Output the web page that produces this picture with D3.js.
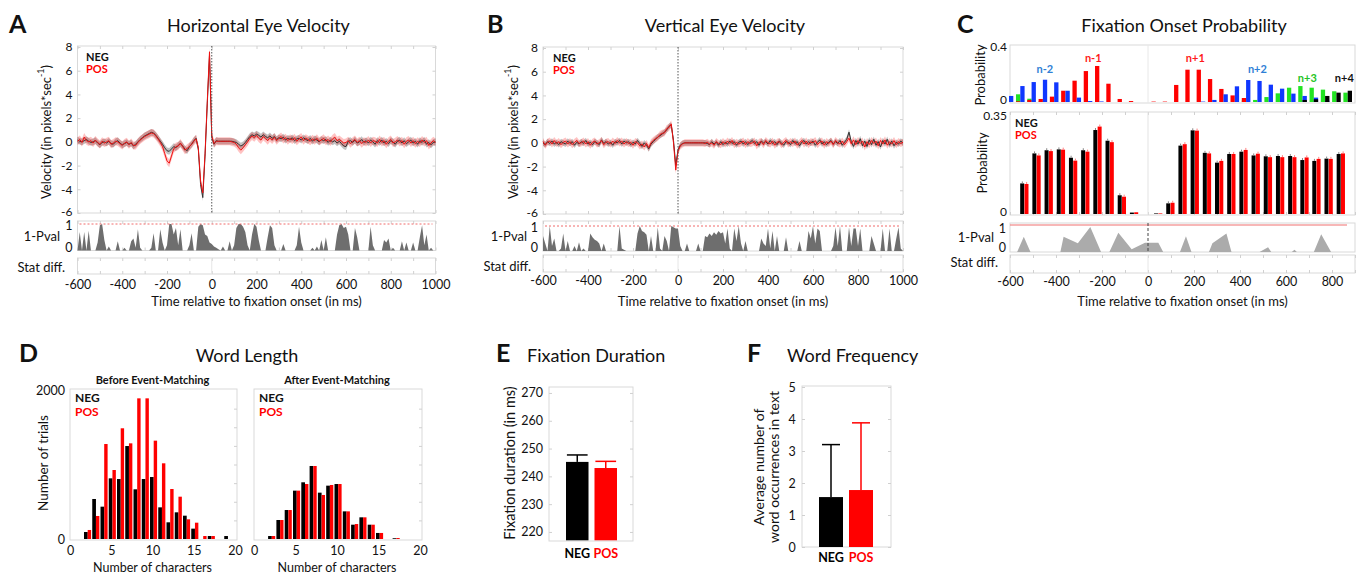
<!DOCTYPE html>
<html>
<head>
<meta charset="utf-8">
<script src="https://cdn.jsdelivr.net/npm/d3@7"></script>
<style>
  body { margin: 0; background: #fff; }
  svg { font-family: Lato, "Open Sans", sans-serif; }
</style>
</head>
<body>
<svg id="fig" width="1363" height="574"></svg>
<script>
// ---------- data ----------
const sampleTimes = [
  -600,-590,-580,-570,-560,-550,-540,-530,-520,-510,
  -500,-490,-480,-470,-460,-450,-440,-430,-420,-410,
  -400,-390,-380,-370,-360,-350,-340,-330,-320,-310,
  -300,-290,-280,-270,-260,-250,-240,-230,-220,-210,
  -200,-190,-180,-170,-160,-150,-140,-130,-120,-110,
  -100,-90,-80,-70,-60,-50,-40,-30,-20,-10,
  0,10,20,30,40,50,60,70,80,90,
  100,110,120,130,140,150,160,170,180,190,
  200,210,220,230,240,250,260,270,280,290,
  300,310,320,330,340,350,360,370,380,390,
  400,410,420,430,440,450,460,470,480,490,
  500,510,520,530,540,550,560,570,580,590,
  600,610,620,630,640,650,660,670,680,690,
  700,710,720,730,740,750,760,770,780,790,
  800,810,820,830,840,850,860,870,880,890,
  900,910,920,930,940,950,960,970,980,990,
  1000]

// horizontal eye velocity (pixels/sec)
const horizNeg = [
  0.15,0.05,0.0,0.1,0.2,0.05,-0.05,0.0,0.1,-0.1,
  -0.25,-0.05,0.0,-0.1,0.05,-0.15,-0.2,0.0,0.1,-0.1,
  -0.25,-0.15,-0.05,-0.2,-0.1,-0.35,-0.2,0.0,0.2,0.35,
  0.5,0.6,0.7,0.8,0.75,0.55,0.3,0.05,-0.2,-0.5,
  -0.75,-0.8,-0.6,-0.4,-0.5,-0.3,-0.15,-0.35,-0.6,-0.75,
  -0.4,-0.2,0.1,0.3,-0.6,-3.6,-4.7,-1.2,3.2,7.3,
  0.4,-0.2,0.1,0.05,0.05,0.05,0.05,0.05,0.05,0.05,
  0.0,-0.05,-0.2,-0.35,-0.25,-0.05,0.2,0.45,0.6,0.5,
  0.65,0.55,0.4,0.6,0.45,0.35,0.5,0.3,0.45,0.2,
  0.35,0.25,0.4,0.15,0.3,0.2,0.35,0.1,0.25,0.3,
  0.15,0.35,0.2,0.1,0.3,0.05,0.25,0.15,0.0,0.2,
  0.1,0.2,-0.05,0.15,0.0,0.1,-0.1,0.05,-0.15,-0.35,
  -0.4,0.05,0.1,-0.05,0.15,-0.1,0.0,0.2,-0.05,0.1,
  -0.1,0.15,0.0,-0.2,0.1,-0.05,0.15,-0.1,0.05,-0.15,
  0.1,0.0,-0.2,0.05,0.15,-0.1,0.1,-0.15,0.0,0.15,
  -0.1,0.05,-0.2,0.1,-0.05,0.15,-0.2,-0.05,-0.25,-0.05,
  0.0]
const horizPos = [
  0.05,0.2,-0.05,0.4,0.1,0.0,0.1,-0.1,0.15,-0.05,
  -0.2,0.05,-0.1,0.0,0.1,-0.2,-0.1,0.05,0.0,-0.15,
  -0.3,-0.1,0.0,-0.25,-0.05,-0.3,-0.3,-0.05,0.15,0.3,
  0.45,0.55,0.65,0.75,0.7,0.5,0.25,-0.05,-0.4,-1.0,
  -1.6,-1.8,-1.2,-0.6,-0.4,-0.35,-0.1,-0.4,-0.7,-0.55,
  -0.4,-0.2,0.05,0.25,-0.5,-3.3,-4.3,-1.0,3.4,7.6,
  0.5,-0.15,0.05,0.05,0.05,0.05,0.05,0.05,0.05,0.0,
  -0.05,-0.2,-0.5,-0.7,-0.5,-0.25,0.0,0.3,0.5,0.35,
  0.55,0.3,0.15,0.45,0.3,0.1,0.35,0.15,0.4,0.1,
  0.3,0.45,0.2,0.35,0.1,0.3,0.15,0.35,0.05,0.25,
  0.4,0.1,0.3,0.2,0.05,0.25,0.1,0.3,0.05,0.15,
  0.3,0.05,0.2,0.0,0.25,0.4,0.1,0.2,0.05,-0.1,
  -0.05,0.1,-0.15,0.05,0.2,-0.05,0.1,-0.15,0.05,-0.05,
  0.15,-0.1,0.1,0.05,-0.1,0.2,-0.05,0.1,-0.2,0.05,
  0.2,-0.1,0.0,0.15,-0.05,0.1,-0.2,0.05,0.15,-0.1,
  0.1,-0.15,0.05,-0.1,0.15,-0.05,0.1,-0.3,-0.1,0.1,
  -0.05]
const horizPval = [
  0,0.7,0,0.7,0,0.75,0,0,0,0.3,
  0.95,1.0,0.4,0,0.15,0,0,0,0.35,0,
  0,0.1,0,0,0.35,0.45,0.1,0.8,0.1,0,
  0,0,0,0.1,0.65,0,0,0.8,0.3,0,
  0.2,1.0,1.0,0.6,0.85,0.2,0.8,0,0,0,
  0.2,0.65,0,0,0.9,1.0,0.95,0.6,0.55,0.3,
  0.25,0.15,0.1,0.05,0,0.15,0,0,0.35,0,
  0.2,0.85,1.0,1.0,0.9,0.7,0.2,0,0.6,1.0,
  0.9,0.4,0,0,0,0.5,0.95,0.85,0.2,0,
  0,0,0.25,0,0,0,0,0,0.2,0.9,
  0.3,0,0,0,0,0.1,0,0.15,0,0.4,
  0,0.5,0,0,0,0,0.6,0.95,1.0,0.85,
  0.9,0.6,0,0,0.85,0.5,0,0,0,0,
  0,0.9,0.2,0,0,0,0,0.4,0.3,0.45,
  0,0.1,0,0,0,0.35,0,0.3,0,0,
  0.3,0,0,0.5,0.95,0.2,0.6,0,0.1,0,
  0]

// vertical eye velocity (pixels/sec)
const vertNeg = [
  0.0,-0.15,0.1,-0.05,0.15,-0.1,0.05,-0.15,0.1,0.0,
  -0.1,0.15,-0.05,0.1,-0.2,0.05,-0.1,0.1,-0.05,0.2,
  -0.1,0.05,-0.15,0.1,0.0,-0.15,0.25,-0.05,0.1,-0.1,
  0.05,-0.2,0.1,0.0,0.2,-0.1,0.15,0.0,0.1,-0.15,
  0.05,-0.1,0.2,-0.05,-0.3,0.0,-0.2,-0.5,-0.1,0.1,
  0.3,0.5,0.6,0.75,0.9,1.1,1.4,1.5,0.2,-1.9,
  -0.6,-0.2,-0.05,0.0,0.0,0.0,0.0,0.0,0.0,0.0,
  0.0,0.0,0.0,-0.05,-0.15,0.1,-0.1,0.05,-0.2,0.1,
  -0.15,0.05,-0.1,0.15,-0.05,0.1,-0.2,0.05,0.15,-0.1,
  0.1,-0.15,0.05,0.2,-0.05,0.1,-0.2,0.15,0.0,0.1,
  -0.1,0.2,-0.05,0.1,-0.15,0.15,0.0,-0.2,0.1,0.05,
  -0.15,0.2,-0.05,0.1,-0.25,0.05,0.2,-0.1,0.1,-0.05,
  0.15,-0.2,0.05,0.25,-0.1,0.1,-0.15,0.05,0.2,-0.1,
  0.1,-0.05,0.2,-0.2,0.05,0.3,0.9,0.1,-0.3,0.2,
  -0.1,0.35,-0.25,0.15,-0.3,0.25,-0.15,0.3,-0.2,0.1,
  -0.35,0.2,-0.1,0.3,-0.2,0.15,-0.25,0.05,-0.1,0.15,
  0.0]
const vertPos = [
  0.1,-0.2,0.05,0.15,-0.1,0.2,-0.05,0.1,-0.15,0.05,
  0.15,-0.1,0.1,-0.15,0.05,0.2,-0.05,0.0,0.15,-0.1,
  0.1,-0.2,0.05,0.15,-0.1,0.0,0.2,-0.15,0.05,0.1,
  -0.1,0.15,-0.05,0.2,0.0,0.15,-0.1,0.1,-0.05,0.05,
  -0.2,0.1,0.0,-0.25,-0.1,-0.35,-0.05,-0.4,0.0,0.2,
  0.35,0.45,0.7,0.8,0.85,1.2,1.3,1.6,0.0,-2.3,
  -0.7,-0.25,-0.1,0.0,0.0,0.0,0.0,0.0,0.0,0.0,
  0.0,0.0,-0.05,0.05,-0.1,0.0,-0.2,0.1,-0.05,-0.15,
  0.1,-0.1,0.15,-0.05,0.2,-0.15,0.05,-0.1,0.0,0.15,
  -0.15,0.1,-0.05,0.0,0.15,-0.25,0.05,0.1,-0.15,0.2,
  0.0,-0.1,0.15,-0.2,0.05,0.1,-0.15,0.05,0.2,-0.1,
  0.1,-0.05,0.15,-0.2,0.0,0.2,-0.1,0.15,-0.15,0.1,
  0.0,0.2,-0.15,0.05,0.15,-0.2,0.1,-0.05,0.15,-0.15,
  0.2,0.0,-0.1,0.15,-0.15,0.1,0.4,-0.1,0.25,-0.15,
  0.2,-0.05,0.15,-0.35,0.1,-0.15,0.2,-0.05,0.15,-0.25,
  0.2,-0.1,0.25,-0.2,0.1,-0.1,0.2,-0.15,0.1,-0.05,
  0.05]
const vertPval = [
  0.6,0.3,0,1.0,0.2,0.5,0,0,0.1,0.7,
  0,0.4,0,0,0.2,0,0.35,0,0.1,0,
  0,0.7,0.55,0.45,0.4,0.3,0,0.3,0,0,
  0,0,0,0,1.0,0.1,0.05,0,0,0,
  0,0,0.7,1.0,0.8,0.75,0.65,0,0.6,0,
  0,0.95,0.1,0,0.6,0.4,0,1.0,0.95,0.9,
  0.9,0.2,0,0,0.3,0,0,0,0,0.3,
  0,0,0.6,0.55,0.7,0.6,0.75,0.65,0.8,0.7,
  0.75,0.3,0.9,0.1,0,0.9,0.4,1.0,0.3,0,
  0.4,0,0,0,0,0,0,0.5,0.3,0.2,
  0.9,0.1,0.8,0,0.6,0,0,0,0.55,0,
  0,0,0,0,0.4,0,0,0,0.8,0.5,
  1.0,0.3,0.9,0.8,0,0,0,0,0,0.2,
  0.95,0.2,1.0,0,0,0,0.95,0.2,0.9,0.9,
  0.2,0.9,0,0,0,0,0.6,0.3,0,0,
  0,0.9,0,0,0.9,0,0,0.5,0.95,0.1,
  0]
const semHoriz = { neg: 0.28, pos: 0.34 }
const semVert = { neg: 0.24, pos: 0.3 }

// fixation onset probability, upper panel: neighbouring fixations per 50 ms bin
const onsetBins = [-600,-550,-500,-450,-400,-350,-300,-250,-200,-150,-100,-50,0,50,100,150,
  200,250,300,350,400,450,500,550,600,650,700,750,800,850,900]
const probNear = [0,0.005,0.015,0.022,0.039,0.082,0.155,0.225,0.262,0.133,0.022,0.007,0,0.003,0.003,0.124,
  0.235,0.235,0.167,0.095,0.048,0.029,0,0,0,0,0,0,0,0,0]          // n-1 / n+1
const probThird = [0,0.056,0.024,0.005,0,0,0,0,0,0,0,0,0,0,0,0,
  0,0,0,0,0,0.012,0.015,0.036,0.063,0.104,0.116,0.104,0.09,0.078,0.068] // n-3 / n+3
const probSecond = [0.044,0.116,0.145,0.162,0.143,0.082,0.032,0.007,0.004,0,0,0,0,0,0,0,
  0,0.003,0.015,0.056,0.114,0.16,0.153,0.126,0.097,0.061,0.044,0.032,0.01,0,0]  // n-2 / n+2
const probFourth = [0,0,0,0,0,0,0,0,0,0,0,0,0,0,0,0,
  0,0,0,0,0,0,0,0,0,0,0.015,0.02,0.044,0.068,0.082]             // n+4
const neighbourLabels = [
  { text: "n-2", t: -441, p: 0.21, color: "#2f7fd6" },
  { text: "n-1", t: -227, p: 0.29, color: "#ff1a1a" },
  { text: "n+1", t: 225, p: 0.29, color: "#ff1a1a" },
  { text: "n+2", t: 500, p: 0.21, color: "#2f7fd6" },
  { text: "n+3", t: 721, p: 0.145, color: "#25c425" },
  { text: "n+4", t: 885, p: 0.145, color: "#111" }]

// fixation onset probability, lower panel
const onsetTimes = [-537,-484,-431,-378,-325,-272,-219,-166,-113,-60,-8,45,98,151,204,257,
  310,363,416,469,522,575,628,681,733,786,839]
const onsetNeg = [0.106,0.210,0.221,0.224,0.195,0.221,0.291,0.254,0.065,0.005,0,0.002,0.037,0.237,0.290,0.212,
  0.178,0.208,0.216,0.203,0.200,0.201,0.201,0.187,0.184,0.192,0.208]
const onsetPos = [0.104,0.203,0.218,0.223,0.185,0.216,0.303,0.249,0.060,0.006,0,0.002,0.039,0.242,0.289,0.210,
  0.184,0.208,0.222,0.209,0.197,0.197,0.197,0.196,0.191,0.191,0.210]
const onsetSem = 0.007
const onsetPvalTimes = [-600,-569,-540,-511,-381,-367,-305,-251,-204,-168,-129,-71,-13,45,66,139,
  165,189,265,280,341,363,485,522,536,625,637,647,721,753,796,900]
const onsetPval = [0,0,0.59,0,0,0.59,0.34,0.96,0,0,0.74,0.11,0.36,0.36,0,0,
  0.61,0,0,0.34,0.71,0,0,0.18,0,0,0.09,0,0,0.68,0,0]

// word length histograms
const charBins = [2,3,4,5,6,7,8,9,10,11,12,13,14,15,16,17,18,19]
const beforeNeg = [94,537,434,814,805,1248,667,805,832,425,224,358,313,139,0,40,0,40]
const beforePos = [121,309,1275,926,1486,1284,1888,1888,1320,1016,671,568,264,219,40,40,0,0]
const afterNeg = [40,255,389,649,761,980,622,716,738,371,192,291,192,81,0,10,0,0]
const afterPos = [40,255,389,649,738,980,591,725,738,371,201,291,192,81,0,13,0,0]

// fixation duration and word frequency
const groups = ["NEG", "POS"]
const durationMean = [245.2, 243.0]
const durationErr = [2.5, 2.4]
const freqMean = [1.56, 1.78]
const freqErr = [1.64, 2.1]

// ticks
const velTicks = [-6, -4, -2, 0, 2, 4, 6, 8]
const timeTicks = [-600, -400, -200, 0, 200, 400, 600, 800, 1000]
const timeTicksC = [-600, -400, -200, 0, 200, 400, 600, 800]
const minorTimeTicks = [-600,-500,-400,-300,-200,-100,0,100,200,300,400,500,600,700,800,900,1000]
const charTicks = [0, 5, 10, 15, 20]
const durationTicks = [220, 230, 240, 250, 260, 270]
const freqTicks = [0, 1, 2, 3, 4, 5]

// ---------- drawing ----------
const INK = "#111"
const FRAME = "#d9d9d9"
const TICK = "#d0d0d0"
const RED = "#ff0000"
const plain = d => String(d)
const svg = d3.select("#fig")

function frame(x0, y0, x1, y1) {
  svg.append("rect").attr("x", x0).attr("y", y0).attr("width", x1 - x0).attr("height", y1 - y0)
    .attr("fill", "none").attr("stroke", FRAME).attr("stroke-width", 1)
}

function tidy(g, size) {
  g.attr("font-family", null).attr("font-size", null)
  g.select(".domain").remove()
  g.selectAll(".tick line").attr("stroke", TICK)
  g.selectAll(".tick text").attr("fill", INK).style("font-size", (size || 12) + "px")
}

function label(x, y, s, o = {}) {
  return svg.append("text").attr("x", x).attr("y", y).text(s)
    .attr("text-anchor", o.anchor || "start")
    .attr("fill", o.color || INK)
    .style("font-size", (o.size || 12) + "px")
    .style("font-weight", o.bold ? 700 : 400)
}

function vlabel(x, y, s, size) {
  return svg.append("text").attr("transform", `translate(${x},${y}) rotate(-90)`)
    .attr("text-anchor", "middle").attr("dominant-baseline", "central")
    .attr("fill", INK).style("font-size", size + "px").text(s)
}

function innerTicksX(x, ticks, yTop, yBot) {
  svg.append("g").attr("transform", `translate(0,${yBot})`)
    .call(d3.axisBottom(x).tickValues(ticks).tickSize(-3).tickFormat("")).call(g => tidy(g))
  svg.append("g").attr("transform", `translate(0,${yTop})`)
    .call(d3.axisTop(x).tickValues(ticks).tickSize(-3).tickFormat("")).call(g => tidy(g))
}

function innerTicksY(y, ticks, xRight) {
  svg.append("g").attr("transform", `translate(${xRight},0)`)
    .call(d3.axisRight(y).tickValues(ticks).tickSize(-3).tickFormat("")).call(g => tidy(g))
}

function panelTitle(letter, lx, title, tx) {
  label(lx, 33, letter, { size: 25, bold: true })
  label(tx, 32, title, { size: 18, anchor: "middle" })
}

function legend(x, y) {
  label(x, y, "NEG", { size: 11, bold: true })
  label(x, y + 12, "POS", { size: 11, bold: true, color: RED })
}

function velocityPanel(cfg, neg, pos, sem, pval) {
  const x = d3.scaleLinear().domain([-600, 1000]).range([cfg.x0, cfg.x1])
  const y = d3.scaleLinear().domain([-6, 8]).range([cfg.vBot, cfg.vTop])
  const yp = d3.scaleLinear().domain([0, 1]).range([cfg.pBot, cfg.pOne])

  panelTitle(cfg.letter, cfg.letterX, cfg.title, (cfg.x0 + cfg.x1) / 2 + 2)

  frame(cfg.x0, cfg.vTop - 1, cfg.x1, cfg.vBot)
  frame(cfg.x0, cfg.pTop, cfg.x1, cfg.pBot)
  frame(cfg.x0, cfg.sTop, cfg.x1, cfg.sBot)
  innerTicksX(x, minorTimeTicks, cfg.vTop - 1, cfg.vBot)
  innerTicksX(x, minorTimeTicks, cfg.pTop, cfg.pBot)
  innerTicksX(x, minorTimeTicks, cfg.sTop, cfg.sBot)
  innerTicksY(y, velTicks, cfg.x1)

  svg.append("g").attr("transform", `translate(${cfg.x0},0)`)
    .call(d3.axisLeft(y).tickValues(velTicks).tickFormat(plain).tickSize(-3).tickPadding(5))
    .call(g => tidy(g, 12))
    .call(g => g.selectAll(".tick text").attr("dy", d => d === -6 ? "0.2em" : "0.32em"))

  // faint zero line in the stat panel
  svg.append("line").attr("x1", x(0)).attr("x2", x(0)).attr("y1", cfg.sTop).attr("y2", cfg.sBot)
    .attr("stroke", "#e6e6e6")

  const band = (vals, s) => d3.area()
    .x((d, i) => x(sampleTimes[i])).y0(d => y(d - s)).y1(d => y(d + s))(vals)
  const line = d3.line().x((d, i) => x(sampleTimes[i])).y(d => y(d))

  svg.append("path").attr("d", band(neg, sem.neg)).attr("fill", "#000").attr("fill-opacity", 0.24)
  svg.append("path").attr("d", band(pos, sem.pos)).attr("fill", RED).attr("fill-opacity", 0.24)
  svg.append("path").attr("d", line(neg)).attr("fill", "none").attr("stroke", "#333").attr("stroke-width", 1)
  svg.append("path").attr("d", line(pos)).attr("fill", "none").attr("stroke", "#f01010").attr("stroke-width", 1)

  svg.append("line").attr("x1", x(0)).attr("x2", x(0)).attr("y1", cfg.vTop - 1).attr("y2", cfg.vBot)
    .attr("stroke", "#555").attr("stroke-dasharray", "1.5,1.5")

  legend(cfg.legX, cfg.vTop + 14)

  // 1 - p value strip
  svg.append("path")
    .attr("d", d3.area().x((d, i) => x(sampleTimes[i])).y0(cfg.pBot).y1(d => yp(d))(pval))
    .attr("fill", "#6e6e6e")
  svg.append("line").attr("x1", cfg.x0 + 2).attr("x2", cfg.x1 - 3).attr("y1", yp(1)).attr("y2", yp(1))
    .attr("stroke", "#f06a6a").attr("stroke-dasharray", "2,2")
  svg.append("g").attr("transform", `translate(${cfg.x0},0)`)
    .call(d3.axisLeft(yp).tickValues([0, 1]).tickFormat(plain).tickSize(0).tickPadding(5))
    .call(g => tidy(g, 12.5))
    .call(g => g.selectAll(".tick text").attr("dy", d => d === 0 ? "0.05em" : "0.45em"))

  svg.append("g").attr("transform", `translate(0,${cfg.sBot})`)
    .call(d3.axisBottom(x).tickValues(timeTicks).tickFormat(plain).tickSize(0).tickPadding(cfg.tickPad))
    .call(g => tidy(g, 12.5))

  vlabel(cfg.ylabX, 132, "", 13).call(t => {
    t.append("tspan").text("Velocity (in pixels*sec")
    t.append("tspan").text("-1").attr("baseline-shift", "super").style("font-size", "9px")
    t.append("tspan").text(")")
  })
  label(cfg.pvalLabX, cfg.pvalLabY, "1-Pval", { size: 13, anchor: "end" })
  label(cfg.statLabX, cfg.statLabY, "Stat diff.", { size: 13, anchor: "end" })
  label((cfg.x0 + cfg.x1) / 2, 306, "Time relative to fixation onset (in ms)", { size: 13, anchor: "middle" })
}

velocityPanel({
  x0: 77.5, x1: 435.5, vTop: 47, vBot: 213, pTop: 221, pBot: 250.5, pOne: 224,
  sTop: 258, sBot: 274, tickPad: 6.5, letter: "A", letterX: 9, title: "Horizontal Eye Velocity",
  ylabX: 46, pvalLabX: 60, pvalLabY: 241, statLabX: 65, statLabY: 272, legX: 86
}, horizNeg, horizPos, semHoriz, horizPval)

velocityPanel({
  x0: 543, x1: 903, vTop: 48, vBot: 214, pTop: 221, pBot: 251, pOne: 226,
  sTop: 255, sBot: 272, tickPad: 4.5, letter: "B", letterX: 487, title: "Vertical Eye Velocity",
  ylabX: 513, pvalLabX: 527, pvalLabY: 241, statLabX: 531, statLabY: 271, legX: 553
}, vertNeg, vertPos, semVert, vertPval)

// ---------- C: fixation onset probability ----------
{
  const x0 = 1010, x1 = 1355
  const xc = d3.scaleLinear().domain([-600, 900]).range([x0, x1])
  const xTop = d3.scaleLinear().domain([-600, 900]).range([1009, 1347.7])
  const yTop = d3.scaleLinear().domain([0, 0.4]).range([102, 47])
  const yMid = d3.scaleLinear().domain([0, 0.35]).range([214, 113])
  const yP = d3.scaleLinear().domain([0, 1]).range([252, 226])
  const slot = 4.3
  const gridC = minorTimeTicks.filter(t => t <= 900)

  panelTitle("C", 957, "Fixation Onset Probability", 1184)

  // upper panel
  frame(x0, 45, x1, 103)
  svg.append("line").attr("x1", xc(0)).attr("x2", xc(0)).attr("y1", 45).attr("y2", 103).attr("stroke", "#e8e8e8")
  const slotBars = (vals, color, side) => svg.append("g").selectAll("rect").data(vals).join("rect")
    .attr("x", (d, i) => xTop(onsetBins[i]) - (side < 0 ? slot : 0))
    .attr("width", slot)
    .attr("y", d => yTop(d)).attr("height", d => yTop(0) - yTop(d))
    .attr("fill", color)
  slotBars(probThird, "#22e322", -1)
  slotBars(probNear, RED, -1)
  slotBars(probSecond, "#1037ff", 1)
  slotBars(probFourth, "#000", 1)
  neighbourLabels.forEach(l => label(xTop(l.t), yTop(l.p), l.text, { size: 11, bold: true, color: l.color, anchor: "middle" }))
  svg.append("g").attr("transform", `translate(${x0},0)`)
    .call(d3.axisLeft(yTop).tickValues([0, 0.4]).tickFormat(plain).tickSize(0).tickPadding(3))
    .call(g => tidy(g, 12))
    .call(g => g.selectAll(".tick text").attr("dy", d => d === 0 ? "0.15em" : "0.32em"))
  vlabel(980, 75, "Probability", 13)

  // middle panel
  frame(x0, 112, x1, 215)
  innerTicksX(xc, gridC, 112, 215)
  svg.append("line").attr("x1", xc(0)).attr("x2", xc(0)).attr("y1", 112).attr("y2", 215).attr("stroke", "#e3e3e3")
  const pairBars = (vals, color, whisker, side) => {
    const g = svg.append("g")
    g.selectAll("rect").data(vals).join("rect")
      .attr("x", (d, i) => xc(onsetTimes[i]) - (side < 0 ? slot : 0))
      .attr("width", slot - 0.3)
      .attr("y", d => yMid(d)).attr("height", d => yMid(0) - yMid(d))
      .attr("fill", color)
    g.selectAll("line").data(vals.map((d, i) => ({ d, i })).filter(e => e.d > 0.02))
      .join("line")
      .attr("x1", e => xc(onsetTimes[e.i]) + side * slot / 2).attr("x2", e => xc(onsetTimes[e.i]) + side * slot / 2)
      .attr("y1", e => yMid(e.d)).attr("y2", e => yMid(e.d + onsetSem))
      .attr("stroke", whisker).attr("stroke-width", 1)
  }
  pairBars(onsetNeg, "#000", "#888", -1)
  pairBars(onsetPos, RED, "#ff8080", 1)
  svg.append("g").attr("transform", `translate(${x0},0)`)
    .call(d3.axisLeft(yMid).tickValues([0, 0.35]).tickFormat(plain).tickSize(0).tickPadding(3))
    .call(g => tidy(g, 12))
    .call(g => g.selectAll(".tick text").attr("dy", d => d === 0.35 ? "0.5em" : "0.12em"))
  vlabel(982, 163, "Probability", 13)
  legend(1015, 127)

  // 1 - p value strip
  frame(x0, 223, x1, 252)
  svg.append("path")
    .attr("d", d3.area().x((d, i) => xc(onsetPvalTimes[i])).y0(252).y1(d => yP(d))(onsetPval))
    .attr("fill", "#ababab")
  svg.append("line").attr("x1", x0).attr("x2", x1 - 8).attr("y1", yP(1) - 1).attr("y2", yP(1) - 1)
    .attr("stroke", "#f07070").attr("stroke-width", 1.2)
  svg.append("line").attr("x1", xc(0)).attr("x2", xc(0)).attr("y1", 223).attr("y2", 252)
    .attr("stroke", "#444").attr("stroke-dasharray", "3,2")
  svg.append("g").attr("transform", `translate(${x0},0)`)
    .call(d3.axisLeft(yP).tickValues([0, 1]).tickFormat(plain).tickSize(0).tickPadding(4))
    .call(g => tidy(g, 12.5))
    .call(g => g.selectAll(".tick text").attr("dy", d => d === 0 ? "-0.05em" : "0.5em"))

  frame(x0, 255, x1, 273)
  innerTicksX(xc, gridC, 255, 273)
  svg.append("line").attr("x1", xc(0)).attr("x2", xc(0)).attr("y1", 255).attr("y2", 273).attr("stroke", "#e6e6e6")
  svg.append("g").attr("transform", `translate(0,273)`)
    .call(d3.axisBottom(xc).tickValues(timeTicksC).tickFormat(plain).tickSize(0).tickPadding(4.5))
    .call(g => tidy(g, 12.5))

  label(994, 242, "1-Pval", { size: 13, anchor: "end" })
  label(998, 267, "Stat diff.", { size: 13, anchor: "end" })
  label((x0 + x1) / 2, 306, "Time relative to fixation onset (in ms)", { size: 13, anchor: "middle" })
}

// ---------- D: word length ----------
label(19, 362, "D", { size: 25, bold: true })
label(247, 362, "Word Length", { size: 18, anchor: "middle" })
function histPanel(x0, x1, neg, pos, subtitle, showY) {
  const x = d3.scaleLinear().domain([0, 20]).range([x0, x1])
  const y = d3.scaleLinear().domain([0, 2000]).range([539, 390])
  frame(x0, 389, x1 + 2, 540)
  svg.append("g").attr("transform", `translate(${x1 + 2},0)`)
    .call(d3.axisRight(y).tickValues([250, 500, 750, 1000, 1250, 1500, 1750]).tickSize(-3).tickFormat(""))
    .call(g => tidy(g))
  svg.append("g").selectAll("rect").data(neg).join("rect")
    .attr("x", (d, i) => x(charBins[i]) - 2.5).attr("width", 3.7)
    .attr("y", d => y(d)).attr("height", d => y(0) - y(d)).attr("fill", "#000")
  svg.append("g").selectAll("rect").data(pos).join("rect")
    .attr("x", (d, i) => x(charBins[i]) + 1.2).attr("width", 3.4)
    .attr("y", d => y(d)).attr("height", d => y(0) - y(d)).attr("fill", RED)
  svg.append("g").attr("transform", `translate(0,540)`)
    .call(d3.axisBottom(x).tickValues(charTicks).tickFormat(plain).tickSize(0).tickPadding(6.5))
    .call(g => tidy(g, 12.5))
  if (showY) {
    svg.append("g").attr("transform", `translate(${x0},0)`)
      .call(d3.axisLeft(y).tickValues([0, 2000]).tickFormat(plain).tickSize(0).tickPadding(5))
      .call(g => tidy(g, 12.5))
  }
  label((x0 + x1) / 2, 383.5, subtitle, { size: 11, bold: true, anchor: "middle" })
  label((x0 + x1) / 2, 572, "Number of characters", { size: 12.5, anchor: "middle" })
  label(x0 + 5, 402, "NEG", { size: 12, bold: true })
  label(x0 + 5, 416, "POS", { size: 12, bold: true, color: RED })
}
histPanel(70, 235, beforeNeg, beforePos, "Before Event-Matching", true)
histPanel(254, 420, afterNeg, afterPos, "After Event-Matching", false)
vlabel(43, 463, "Number of trials", 13.5)

// ---------- E & F: bar charts ----------
function meanPanel(cfg, means, errs, ticks) {
  const y = d3.scaleLinear().domain(cfg.domain).range([cfg.bottom, cfg.top])
  const x = d3.scaleBand().domain(groups).range(cfg.barRange).paddingInner(cfg.pad)
  frame(cfg.x0, cfg.boxTop, cfg.x1, cfg.boxBot)
  innerTicksY(y, ticks, cfg.x1)
  svg.append("g").attr("transform", `translate(${cfg.x0},0)`)
    .call(d3.axisLeft(y).tickValues(ticks).tickFormat(plain).tickSize(-3).tickPadding(cfg.tickPad))
    .call(g => tidy(g, 12.5))
    .call(g => g.selectAll(".tick text").attr("text-anchor", cfg.tickAnchor || "end"))
  const colors = ["#000", RED]
  svg.append("g").selectAll("rect").data(means).join("rect")
    .attr("x", (d, i) => x(groups[i])).attr("width", x.bandwidth())
    .attr("y", d => y(d)).attr("height", d => y(cfg.domain[0]) - y(d))
    .attr("fill", (d, i) => colors[i])
  means.forEach((m, i) => {
    const cx = x(groups[i]) + x.bandwidth() / 2
    const top = y(m + errs[i])
    const w = x.bandwidth() * cfg.cap / 2
    svg.append("line").attr("x1", cx).attr("x2", cx).attr("y1", y(m)).attr("y2", top)
      .attr("stroke", colors[i]).attr("stroke-width", 1.5)
    svg.append("line").attr("x1", cx - w).attr("x2", cx + w).attr("y1", top).attr("y2", top)
      .attr("stroke", colors[i]).attr("stroke-width", 1.5)
    label(cx, cfg.labelY, groups[i], { size: 12.5, bold: true, color: colors[i], anchor: "middle" })
  })
}

label(496, 362, "E", { size: 25, bold: true })
label(527, 362, "Fixation Duration", { size: 18 })
meanPanel({
  domain: [217, 272], bottom: 540.3, top: 387.4, x0: 549, x1: 633, boxTop: 387, boxBot: 541,
  barRange: [566, 617], pad: 0.21, tickPad: 6, cap: 0.92, labelY: 558
}, durationMean, durationErr, durationTicks)
vlabel(509, 463, "Fixation duration (in ms)", 14.5)

label(747, 362, "F", { size: 25, bold: true })
label(787, 362, "Word Frequency", { size: 18 })
meanPanel({
  domain: [0, 5], bottom: 547, top: 387, x0: 802, x1: 891, boxTop: 386, boxBot: 547,
  barRange: [819, 873], pad: 0.2, tickPad: 10, tickAnchor: "middle", cap: 0.75, labelY: 562
}, freqMean, freqErr, freqTicks)
vlabel(758, 467, "Average number of", 14)
vlabel(773, 467, "word occurrences in text", 14)
</script>
</body>
</html>
